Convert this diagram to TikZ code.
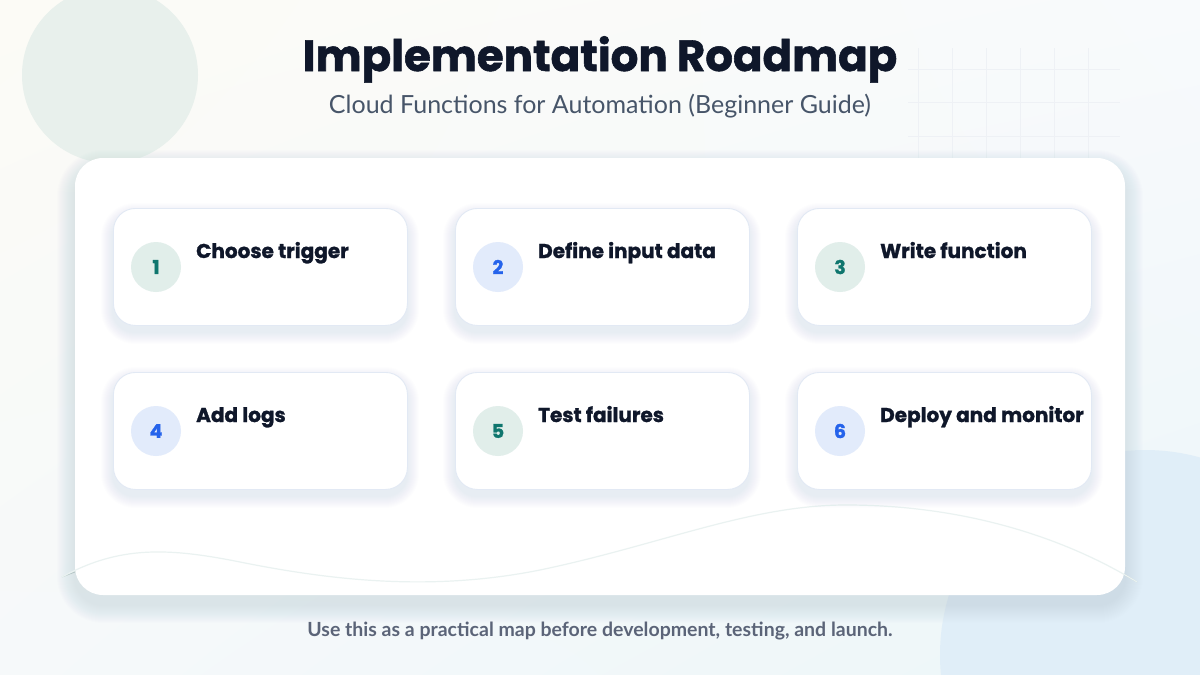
\documentclass[tikz,border=0pt]{standalone}
\usepackage{fontspec}
\usetikzlibrary{shadings}
\newfontfamily\heavyfont{Poppins}[BoldFeatures={FakeBold=1.3}]
\newfontfamily\subfont{Lato}
\newfontfamily\footfont{Lato}
\definecolor{ink}{HTML}{0F172A}
\definecolor{subink}{HTML}{475569}
\definecolor{footink}{HTML}{5B6478}
\definecolor{tealbg}{HTML}{E1EEEA}
\definecolor{tealfg}{HTML}{0F766E}
\definecolor{bluebg}{HTML}{E2EBFB}
\definecolor{bluefg}{HTML}{2563EB}
\definecolor{cardline}{HTML}{E2E9F4}
\definecolor{wave}{HTML}{EAF2F1}
\definecolor{waveout}{HTML}{C5D7D8}
\definecolor{gridc}{HTML}{EEF1F5}
\definecolor{bgUL}{HTML}{FCFBF6}
\definecolor{bgUR}{HTML}{F8FAFC}
\definecolor{bgLL}{HTML}{F6F9FA}
\definecolor{bgLR}{HTML}{ECF6F9}
\definecolor{circA}{HTML}{E8F0EC}
\definecolor{circB}{HTML}{E0EEF8}
\definecolor{shadowc}{HTML}{64748B}
\newcommand\softshade[8]{% x1 y1 x2 y2 radius yoff steps opacity
  \foreach \i in {1,...,#7}{
    \pgfmathsetmacro\rr{#5+\i}
    \fill[shadowc, opacity=#8, rounded corners=\rr pt] (#1-\i,#2-\i+#6) rectangle (#3+\i,#4+\i+#6);
  }}
\tikzset{
  panel/.style={fill=white, rounded corners=28pt},
  card/.style={draw=cardline, line width=0.9pt, fill=white, rounded corners=22pt, minimum width=294pt, minimum height=117pt, anchor=north west},
  numdot/.style={circle, minimum size=50pt, inner sep=0pt, font=\heavyfont\bfseries\fontsize{19}{19}\selectfont},
  tealdot/.style={numdot, fill=tealbg, text=tealfg},
  bluedot/.style={numdot, fill=bluebg, text=bluefg},
  label/.style={anchor=base west, inner sep=0pt, text=ink, font=\heavyfont\bfseries\fontsize{20}{22}\selectfont}
}
\begin{document}
\begin{tikzpicture}[x=1pt,y=-1pt]
\useasboundingbox (0,0) rectangle (1200,675);
% background
\shade[upper left=bgUL, upper right=bgUR, lower left=bgLL, lower right=bgLR] (0,0) rectangle (1200,675);
\fill[circA] (110,75) circle (88);
\fill[circB] (1145,655) circle (205);
% grid
\foreach \gx in {918,952,986,1020,1054,1088}
  \draw[gridc, line width=0.5pt] (\gx,48) -- (\gx,158);
\foreach \gy in {69,102,136}
  \draw[gridc, line width=0.5pt] (908,\gy) -- (1120,\gy);
% title
\node[text=ink, font=\heavyfont\bfseries\fontsize{43.5}{46}\selectfont, anchor=base] (title) at (600,71) {Implementation Roadmap};
\node[text=subink, font=\subfont\fontsize{25}{28}\selectfont, anchor=base] (sub) at (600,113) {Cloud Functions for Automation (Beginner Guide)};
% wave outside ends
\draw[waveout, line width=1pt] (62,577) -- (80,570);
\draw[waveout, line width=1pt] (1120,572) -- (1137,582);
% panel
\softshade{75}{158}{1125}{595}{28}{10}{18}{0.008}
\fill[panel] (75,158) rectangle (1125,595);
\draw[wave, line width=1.2pt] (62,577) .. controls (120,545) and (170,548) .. (240,562)
  .. controls (330,580) and (430,592) .. (540,570)
  .. controls (660,545) and (750,505) .. (846,505)
  .. controls (960,505) and (1060,535) .. (1137,582);
% card shadows
\foreach \cx in {113,455,797}{
  \foreach \cy in {208,372}{
    \softshade{\cx}{\cy}{\cx+294}{\cy+117}{22}{7}{12}{0.006}
  }}
% cards
\node[card] (c1) at (113,208) {};
\node[card] (c2) at (455,208) {};
\node[card] (c3) at (797,208) {};
\node[card] (c4) at (113,372) {};
\node[card] (c5) at (455,372) {};
\node[card] (c6) at (797,372) {};
\node[tealdot] (n1) at (156,267) {1};
\node[bluedot] (n2) at (498,267) {2};
\node[tealdot] (n3) at (840,267) {3};
\node[bluedot] (n4) at (156,431) {4};
\node[tealdot] (n5) at (498,431) {5};
\node[bluedot] (n6) at (840,431) {6};
\node[label] (t1) at (196,258) {Choose trigger};
\node[label] (t2) at (538,258) {Define input data};
\node[label] (t3) at (880,258) {Write function};
\node[label] (t4) at (196,422) {Add logs};
\node[label] (t5) at (538,422) {Test failures};
\node[label] (t6) at (880,422) {Deploy and monitor};
% footer
\node[text=footink, font=\footfont\bfseries\fontsize{19.5}{21}\selectfont, anchor=base] (foot) at (600,636) {Use this as a practical map before development, testing, and launch.};
\end{tikzpicture}
\end{document}
